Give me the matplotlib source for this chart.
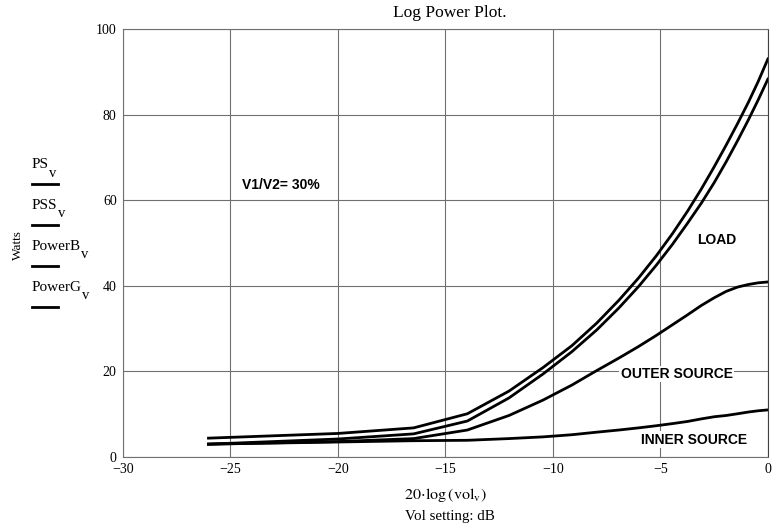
import matplotlib
matplotlib.use('Agg')
import matplotlib.pyplot as plt
from matplotlib.lines import Line2D
import numpy as np

# volume setting (linear), plotted as 20*log10(vol)
vol = [0.05, 0.10, 0.15, 0.20, 0.25, 0.30, 0.35, 0.40, 0.45, 0.50,
       0.55, 0.60, 0.65, 0.70, 0.75, 0.80, 0.85, 0.90, 0.95, 1.00]

# Watts
ps = [4.4, 5.5, 6.8, 10.1, 15.4, 20.9, 26.0, 31.3, 36.6, 41.8,
      47.0, 52.2, 57.4, 62.6, 67.8, 72.9, 77.9, 82.8, 87.8, 93.0]
pss = [3.0, 4.2, 5.4, 8.4, 13.8, 19.4, 24.6, 29.7, 34.8, 39.8,
       44.8, 49.7, 54.6, 59.3, 64.1, 69.0, 73.9, 78.7, 83.5, 88.3]
power_b = [3.0, 3.6, 4.3, 6.3, 9.7, 13.3, 16.8, 20.2, 23.1, 25.8,
           28.4, 30.9, 33.2, 35.4, 37.2, 38.7, 39.7, 40.3, 40.7, 40.9]
power_g = [3.0, 3.5, 3.8, 3.9, 4.3, 4.7, 5.2, 5.8, 6.3, 6.8,
           7.3, 7.8, 8.3, 8.9, 9.4, 9.7, 10.1, 10.5, 10.8, 11.0]

legend_names = ['PS', 'PSS', 'PowerB', 'PowerG']

plt.rcParams['font.family'] = 'Liberation Serif'
plt.rcParams['mathtext.fontset'] = 'stix'

fig = plt.figure(figsize=(7.78, 5.28), dpi=100)
ax = fig.add_axes([0.158, 0.1345, 0.829, 0.8105])

x = 20 * np.log10(vol)
for series in (ps, pss, power_b, power_g):
    ax.plot(x, series, color='black', linewidth=2.0)

ax.set_xlim(-30, 0)
ax.set_ylim(0, 100)
ax.set_xticks(np.arange(-30, 1, 5))
ax.set_yticks(np.arange(0, 101, 20))
ax.grid(True, color='#707070', linewidth=0.8)
ax.set_axisbelow(True)
ax.tick_params(length=0, labelsize=10, pad=4.5)
for s in ax.spines.values():
    s.set_color('#707070')
    s.set_linewidth(0.8)
ax.spines['right'].set_color('#404040')

fig.text(0.578, 0.975, 'Log Power Plot.', ha='center', va='center', fontsize=12.5)

# annotations
sans = dict(family='Liberation Sans', fontweight='bold', fontsize=10)
box = dict(facecolor='white', edgecolor='none', pad=1)
ax.text(-24.45, 63.5, 'V1/V2= 30%', ha='left', va='center', **sans)
ax.text(-2.4, 50.7, 'LOAD', ha='center', va='center', bbox=box, **sans)
ax.text(-4.25, 19.4, 'OUTER SOURCE', ha='center', va='center', bbox=box, **sans)
ax.text(-3.45, 4.0, 'INNER SOURCE', ha='center', va='center', bbox=box, **sans)

# x label
fig.text(0.572, 0.062, r'$20\!\cdot\!\log\left(\mathrm{vol}_{\mathrm{v}}\right)$',
         ha='center', va='center', fontsize=11.5)
fig.text(0.578, 0.022, 'Vol setting: dB', ha='center', va='center', fontsize=10.8)

# y label and legend (name with a lowered "v" subscript, then a line sample)
fig.text(0.023, 0.535, 'Watts', rotation=90, ha='center', va='center', fontsize=9.5)
y_txt = [0.688, 0.611, 0.533, 0.456]
for name, yt in zip(legend_names, y_txt):
    t = fig.text(0.040, yt, name, ha='left', va='center', fontsize=11)
    ax.annotate('v', xy=(1, 0.5), xycoords=t, xytext=(0.8, -6),
                textcoords='offset points', ha='left', va='center', fontsize=10.5,
                annotation_clip=False)
    fig.add_artist(Line2D([0.041, 0.074], [yt - 0.037, yt - 0.037],
                          transform=fig.transFigure, color='black', linewidth=2.0))

fig.savefig('out.png', dpi=100)
